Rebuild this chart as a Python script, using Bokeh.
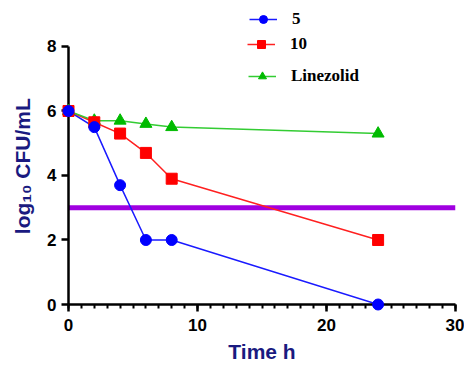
from bokeh.plotting import figure
from bokeh.models import Range1d, SingleIntervalTicker, Legend, LegendItem
from bokeh.embed import file_html
from bokeh.resources import INLINE

time_h = [0, 2, 4, 6, 8, 24]
s5 = [6.0, 5.5, 3.7, 2.0, 2.0, 0.0]
s10 = [6.0, 5.65, 5.3, 4.7, 3.9, 2.0]
linezolid = [6.0, 5.7, 5.7, 5.6, 5.5, 5.3]
threshold = 3.0
x_ticks_interval = 10
y_ticks_interval = 2

p = figure(width=464, height=369, output_backend="svg", toolbar_location=None,
           x_range=Range1d(0, 30), y_range=Range1d(0, 9.302),
           min_border_left=68, min_border_right=9, min_border_top=4, min_border_bottom=65)
p.outline_line_color = None
p.grid.visible = False
p.background_fill_color = "white"

p.line([0, 30], [threshold, threshold], line_color="#a000e0", line_width=5)

bl = p.line(time_h, s5, line_color="#1a1aff", line_width=1.5)
rl = p.line(time_h, s10, line_color="#ff2020", line_width=1.5)
gl = p.line(time_h, linezolid, line_color="#33cc33", line_width=1.5)
gs = p.scatter(time_h, linezolid, marker="triangle", size=12, fill_color="#00bb00", line_color="#00bb00", level="overlay")
rs = p.scatter(time_h, s10, marker="square", size=11, fill_color="#ff0000", line_color="#ff0000", level="overlay")
bs = p.scatter(time_h, s5, marker="circle", size=11, fill_color="#0000ff", line_color="#0000ff", level="overlay")

for ax in (p.xaxis[0], p.yaxis[0]):
    ax.axis_line_width = 2.5
    ax.axis_line_color = "black"
    ax.major_tick_line_width = 2.5
    ax.minor_tick_line_width = 2
    ax.major_tick_out = 7
    ax.major_tick_in = 0
    ax.minor_tick_out = 4
    ax.minor_tick_in = 0
    ax.major_label_text_font = "Liberation Sans"
    ax.major_label_text_font_style = "bold"
    ax.major_label_text_font_size = "17px"
    ax.major_label_text_color = "black"
    ax.axis_label_text_font = "Liberation Sans"
    ax.axis_label_text_font_style = "bold"
    ax.axis_label_text_font_size = "21px"
    ax.axis_label_text_color = "#1a1a80"

p.xaxis[0].ticker = SingleIntervalTicker(interval=x_ticks_interval, num_minor_ticks=10)
p.xaxis[0].axis_label = "Time h"
p.xaxis[0].major_label_standoff = 7
p.xaxis[0].axis_label_standoff = 6

p.yaxis[0].ticker = SingleIntervalTicker(interval=y_ticks_interval, num_minor_ticks=0)
p.yaxis[0].bounds = (0, 8)
p.yaxis[0].axis_label = "log\u2081\u2080 CFU/mL" + "\u00a0" * 4
p.yaxis[0].major_label_standoff = 5
p.yaxis[0].axis_label_standoff = 10

def mk_legend(label, rends, loc):
    lg = Legend(items=[LegendItem(label=label, renderers=rends)], location=loc,
                padding=0, margin=0, border_line_color=None, background_fill_alpha=0,
                glyph_width=28, glyph_height=20, label_height=20, label_standoff=15,
                label_text_font="Liberation Serif", label_text_font_style="bold",
                label_text_font_size="17px", label_text_color="black")
    p.add_layout(lg, "center")

mk_legend("5", [bl, bs], (181, 275))
mk_legend("10", [rl, rs], (179, 250))
mk_legend("Linezolid", [gl, gs], (180, 218))

open("out.html", "w").write(file_html(p, INLINE))
